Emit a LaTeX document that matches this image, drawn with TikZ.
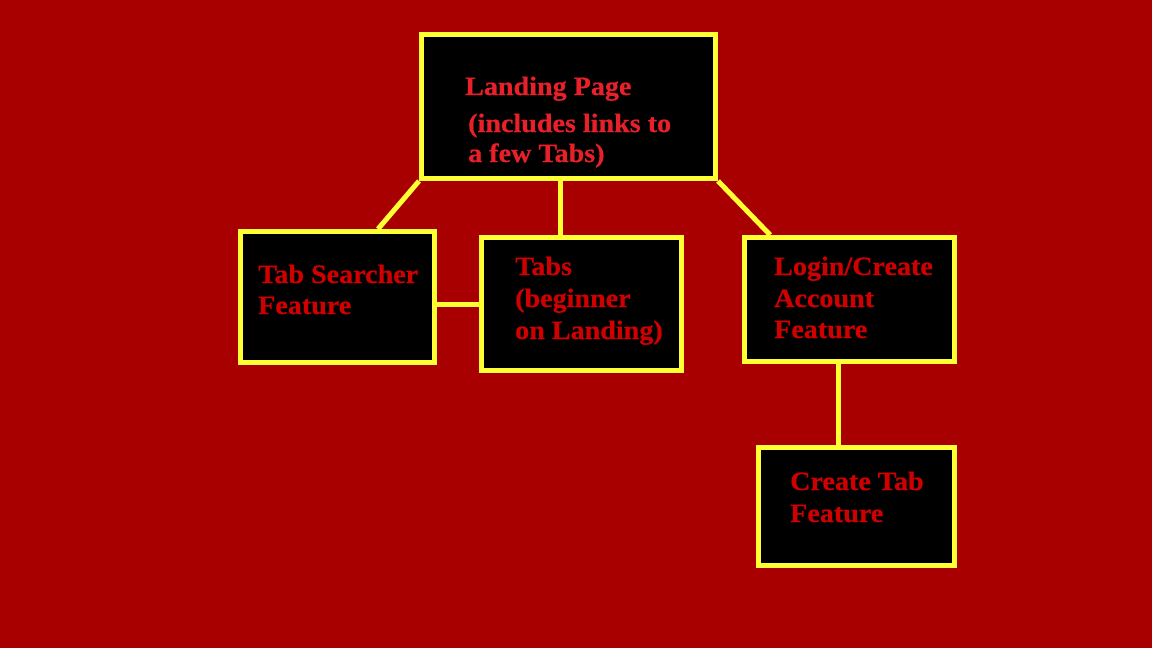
\documentclass[tikz,border=0pt]{standalone}
\usepackage{fontspec}
\setmainfont{Liberation Serif}[FakeStretch=1.06,BoldFeatures={FakeBold=0.6}]
\definecolor{bgred}{RGB}{168,0,0}
\definecolor{frameyellow}{RGB}{255,255,51}
\definecolor{headred}{RGB}{232,32,42}
\definecolor{textred}{RGB}{208,0,0}
\begin{document}
\begin{tikzpicture}[x=1pt,y=-1pt,
  card/.style={draw=frameyellow, line width=5pt, fill=black, inner sep=0pt},
  link/.style={draw=frameyellow, line width=5pt},
  label/.style={anchor=base west, inner sep=0pt, text=textred,
    font=\fontsize{26.5}{32}\selectfont\bfseries},
  headlabel/.style={label, text=headred}]
  \fill[bgred] (0,0) rectangle (1152,648);
  \useasboundingbox (0,0) rectangle (1152,648);

  % boxes
  \node[card, minimum width=294pt, minimum height=144pt] (land) at (568.5,106.5) {};
  \node[card, minimum width=194pt, minimum height=131pt] (ts) at (337.5,297) {};
  \node[card, minimum width=200pt, minimum height=133pt] (tabs) at (581.5,304) {};
  \node[card, minimum width=210pt, minimum height=124pt] (login) at (849.2,299.5) {};
  \node[card, minimum width=196pt, minimum height=118pt] (create) at (856.2,506.5) {};

  % connectors
  \draw[link] (land.south west) -- ([xshift=40.5pt]ts.north);
  \draw[link] ([xshift=-8.5pt]land.south) -- ([xshift=-8.5pt]land.south |- tabs.north);
  \draw[link] (land.south east) -- ([xshift=-79pt]login.north);
  \draw[link] (ts.east |- tabs.west) -- (tabs.west);
  \draw[link] ([xshift=-11pt]login.south) -- ([xshift=-11pt]login.south |- create.north);

  % texts
  \node[headlabel] (land1) at (465,95) {Landing Page};
  \node[headlabel] (land2) at (468,132) {(includes links to};
  \node[headlabel] (land3) at (468,162) {a few Tabs)};

  \node[label] (ts1) at (258,283) {Tab Searcher};
  \node[label] (ts2) at (258,314) {Feature};

  \node[label] (tabs1) at (515,275) {Tabs};
  \node[label] (tabs2) at (515,307) {(beginner};
  \node[label] (tabs3) at (515,339) {on Landing)};

  \node[label] (login1) at (774,275) {Login/Create};
  \node[label] (login2) at (774,307) {Account};
  \node[label] (login3) at (774,338) {Feature};

  \node[label] (create1) at (790,490) {Create Tab};
  \node[label] (create2) at (790,522) {Feature};
\end{tikzpicture}
\end{document}
